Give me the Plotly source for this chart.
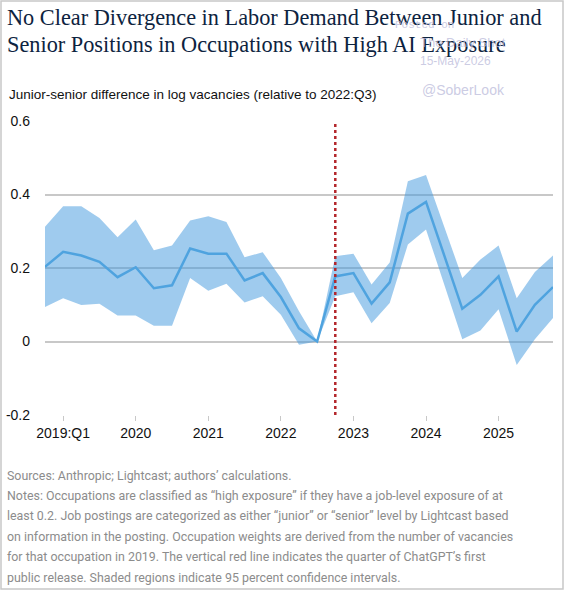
import plotly.graph_objects as go

# trimestres 2018:Q4 .. 2025:Q4 como años decimales
quarters = [2018.75 + 0.25 * i for i in range(29)]

estimate = [0.203, 0.244, 0.234, 0.217, 0.175, 0.202, 0.145, 0.153, 0.253, 0.239,
            0.239, 0.166, 0.186, 0.121, 0.036, 0.000, 0.177, 0.186, 0.103, 0.161,
            0.348, 0.380, 0.235, 0.089, 0.127, 0.177, 0.027, 0.100, 0.148]
upper = [0.312, 0.368, 0.368, 0.336, 0.284, 0.332, 0.248, 0.261, 0.329, 0.341,
         0.325, 0.229, 0.243, 0.173, 0.082, 0.000, 0.232, 0.239, 0.155, 0.215,
         0.436, 0.453, 0.313, 0.173, 0.223, 0.261, 0.118, 0.189, 0.234]
lower = [0.094, 0.118, 0.099, 0.103, 0.071, 0.071, 0.043, 0.043, 0.173, 0.138,
         0.157, 0.106, 0.123, 0.073, -0.009, 0.000, 0.123, 0.134, 0.050, 0.105,
         0.264, 0.305, 0.156, 0.006, 0.030, 0.088, -0.064, 0.006, 0.064]

chatgpt_quarter = 2022.75

x_tickvals = [2019, 2020, 2021, 2022, 2023, 2024, 2025]
x_ticktext = ["2019:Q1", "2020", "2021", "2022", "2023", "2024", "2025"]
y_tickvals = [-0.2, 0, 0.2, 0.4, 0.6]
y_ticktext = ["-0.2", "0", "0.2", "0.4", "0.6"]

title_lines = [
    "No Clear Divergence in Labor Demand Between Junior and",
    "Senior Positions in Occupations with High AI Exposure",
]
subtitle = "Junior-senior difference in log vacancies (relative to 2022:Q3)"
notes = [
    "Sources: Anthropic; Lightcast; authors’ calculations.",
    "Notes: Occupations are classified as “high exposure” if they have a job-level exposure of at",
    "least 0.2. Job postings are categorized as either “junior” or “senior” level by Lightcast based",
    "on information in the posting. Occupation weights are derived from the number of vacancies",
    "for that occupation in 2019. The vertical red line indicates the quarter of ChatGPT’s first",
    "public release. Shaded regions indicate 95 percent confidence intervals.",
]

# Área del gráfico en píxeles
L, R, T, B = 45, 553, 121, 415
W, H = R - L, B - T


def px(x, y):
    """Convierte píxeles de la página a coordenadas 'paper'."""
    return (x - L) / W, (B - y) / H


fig = go.Figure()

# banda de confianza
fig.add_trace(go.Scatter(
    x=quarters, y=upper, mode="lines", line_width=0,
    hoverinfo="skip", showlegend=False))
fig.add_trace(go.Scatter(
    x=quarters, y=lower, mode="lines", line_width=0,
    fill="tonexty", fillcolor="rgba(64,151,222,0.5)",
    hoverinfo="skip", showlegend=False))

fig.add_trace(go.Scatter(
    x=quarters, y=estimate, mode="lines",
    line_color="#4fa3df", line_width=2.5, showlegend=False))

fig.add_shape(
    type="line", xref="x", yref="paper",
    x0=chatgpt_quarter, x1=chatgpt_quarter, y0=0, y1=1,
    line=dict(color="#b3262b", width=2.5, dash="dot"))

# marco exterior
x0, y0 = px(1, 589)
x1, y1 = px(563, 1)
fig.add_shape(
    type="rect", xref="paper", yref="paper",
    x0=x0, x1=x1, y0=y0, y1=y1,
    line=dict(color="#c8c8c8", width=1.5))

fig.update_xaxes(
    range=[2018.75, 2025.75],
    tickvals=x_tickvals,
    ticktext=x_ticktext,
    ticks="outside",
    ticklen=5,
    tickcolor="#c8c8c8",
    showgrid=False,
    showline=False,
    zeroline=False,
    automargin=False,
    tickfont=dict(family="Liberation Sans", size=14, color="#111111"),
)

fig.update_yaxes(
    range=[-0.2, 0.6],
    tickvals=y_tickvals,
    ticktext=y_ticktext,
    showgrid=True,
    gridcolor="#c8c8c8",
    gridwidth=1.5,
    zeroline=False,
    ticks="",
    ticklabelstandoff=14,
    automargin=False,
    tickfont=dict(family="Liberation Sans", size=14, color="#111111"),
)

annotations = []
for text, y in zip(title_lines, [17, 45]):
    xx, yy = px(5, y)
    annotations.append(dict(
        xref="paper", yref="paper", x=xx, y=yy, xanchor="left", yanchor="middle",
        text=text, showarrow=False,
        font=dict(family="Liberation Serif", size=22.3, color="#0d2340")))

wm = [
    ("Posted on", 393, 25, "Liberation Mono", 11),
    ("The Daily Shot", 418, 42, "Liberation Sans", 13),
    ("15-May-2026", 418, 61, "Liberation Sans", 12),
    ("@SoberLook", 420, 90, "Liberation Sans", 14),
]
for text, x, y, fam, size in wm:
    xx, yy = px(x, y)
    annotations.append(dict(
        xref="paper", yref="paper", x=xx, y=yy, xanchor="left", yanchor="middle",
        text=text, showarrow=False,
        font=dict(family=fam, size=size, color="rgba(190,190,220,0.8)")))

xx, yy = px(7, 94)
annotations.append(dict(
    xref="paper", yref="paper", x=xx, y=yy, xanchor="left", yanchor="middle",
    text=subtitle, showarrow=False,
    font=dict(family="Liberation Sans", size=13.5, color="#111111")))

for i, line in enumerate(notes):
    xx, yy = px(5, 475 + 20.4 * i)
    annotations.append(dict(
        xref="paper", yref="paper", x=xx, y=yy, xanchor="left", yanchor="middle",
        text=line, showarrow=False,
        font=dict(family="Roboto", size=12.4, color="#8c8c8c")))

fig.update_layout(
    width=564,
    height=590,
    margin=dict(l=L, r=564 - R, t=T, b=590 - B),
    plot_bgcolor="white",
    paper_bgcolor="white",
    showlegend=False,
    annotations=annotations,
)

# sin margen del body para que la figura empiece en (0, 0)
fig.write_html(
    "out.html",
    config={"displayModeBar": False},
    post_script="document.body.style.margin='0';document.body.style.overflow='hidden';")
